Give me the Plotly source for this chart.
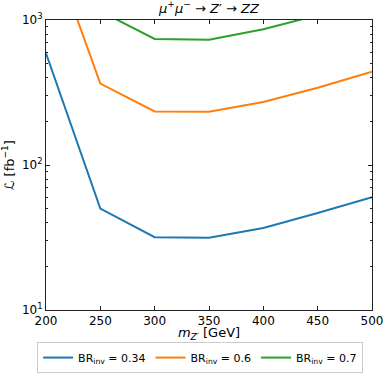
import plotly.graph_objects as go

mass = [200, 250, 300, 350, 400, 450, 500]
lumi_034 = [590, 50, 31.8, 31.5, 36.8, 46.7, 60]
lumi_06 = [4000, 364, 234, 233, 272, 341, 440]
lumi_07 = [12000, 1150, 740, 731, 863, 1076, 1350]
series_names = ["BR<sub>inv</sub> = 0.34", "BR<sub>inv</sub> = 0.6", "BR<sub>inv</sub> = 0.7"]
colors = ["#1f77b4", "#ff7f0e", "#2ca02c"]
x_ticks = [200, 250, 300, 350, 400, 450, 500]
y_ticks = [10, 100, 1000]
y_ticktext = ["10<sup>1</sup>", "10<sup>2</sup>", "10<sup>3</sup>"]

fig = go.Figure()
for vals, name, c in zip([lumi_034, lumi_06, lumi_07], series_names, colors):
    fig.add_trace(go.Scatter(x=mass, y=vals, mode="lines", name=name,
                             line=dict(color=c, width=2), cliponaxis=True))

axis_common = dict(showline=True, linecolor="#222", linewidth=1, mirror="ticks",
                   ticks="inside", ticklen=4, tickcolor="#222", showgrid=False,
                   zeroline=False, tickfont=dict(size=12, color="black"), automargin=False)

fig.update_xaxes(range=[200, 500], tickvals=x_ticks, **axis_common,
                 title=dict(text="<i>m</i><sub><i>Z′</i></sub> [GeV]", font=dict(size=13, color="black"), standoff=4))
fig.update_yaxes(type="log", range=[1, 3], tickvals=y_ticks, ticktext=y_ticktext, **axis_common,
                 minor=dict(ticks="inside", ticklen=2, tickcolor="#222", dtick="D1", showgrid=False),
                 title=dict(text="ℒ [fb<sup>−1</sup>]", font=dict(size=13, color="black"), standoff=4))

fig.update_layout(
    width=387, height=378,
    margin=dict(l=46, r=15, t=20, b=68),
    paper_bgcolor="white", plot_bgcolor="white",
    font=dict(family="DejaVu Sans", color="black"),
    title=dict(text="<i>μ</i><sup>+</sup><i>μ</i><sup>−</sup> → <i>Z</i>′ → <i>ZZ</i>",
               x=0.54, xanchor="center", y=0.99, yanchor="top", font=dict(size=13, color="black")),
    legend=dict(orientation="h", xref="container", yref="container",
                x=0.517, xanchor="center", y=0.095, yanchor="top",
                bordercolor="#ccc", borderwidth=1, font=dict(size=11), itemwidth=30),
    showlegend=True,
)

fig.write_html("out.html", config={"displayModeBar": False},
               post_script="document.body.style.margin='0';")
